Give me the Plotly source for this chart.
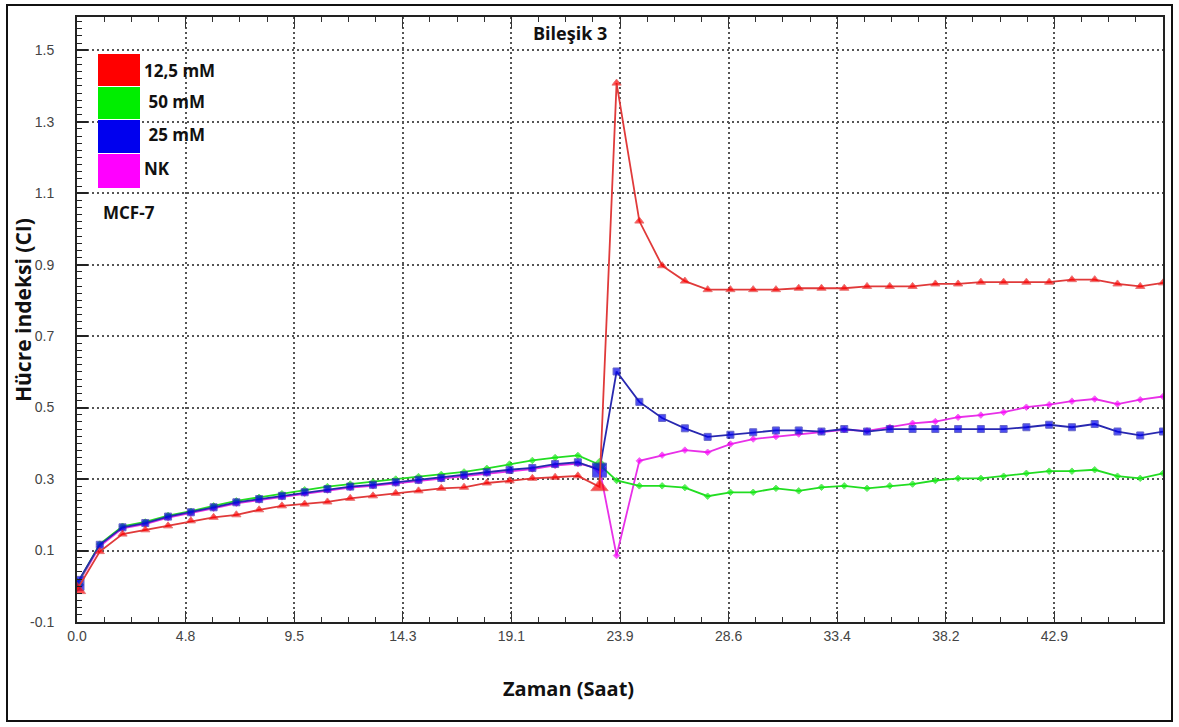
import plotly.graph_objects as go

# ---------------- data ----------------
time_h = [0, 1, 2, 3, 4, 5, 6, 7, 8, 9, 10, 11, 12, 13, 14, 15, 16, 17, 18, 19, 20, 21, 22,
          22.95,
          23.7, 24.7, 25.7, 26.7, 27.7, 28.7, 29.7, 30.7, 31.7, 32.7, 33.7, 34.7, 35.7, 36.7,
          37.7, 38.7, 39.7, 40.7, 41.7, 42.7, 43.7, 44.7, 45.7, 46.7, 47.7]

ci_125 = [-0.010, 0.097, 0.146, 0.158, 0.169, 0.183, 0.193, 0.200, 0.214, 0.225, 0.230, 0.236,
          0.246, 0.253, 0.260, 0.267, 0.274, 0.277, 0.289, 0.295, 0.302, 0.305, 0.309,
          0.278,
          1.408, 1.022, 0.897, 0.854, 0.830, 0.830, 0.830, 0.830, 0.834, 0.834, 0.834, 0.839,
          0.839, 0.839, 0.846, 0.846, 0.851, 0.851, 0.851, 0.851, 0.858, 0.858, 0.846, 0.839, 0.849]

ci_50 = [0.005, 0.118, 0.168, 0.180, 0.198, 0.210, 0.225, 0.239, 0.249, 0.259, 0.270, 0.279,
         0.286, 0.292, 0.300, 0.307, 0.313, 0.320, 0.330, 0.342, 0.352, 0.360, 0.366,
         0.340,
         0.296, 0.281, 0.281, 0.276, 0.252, 0.263, 0.263, 0.274, 0.267, 0.277, 0.281, 0.274,
         0.281, 0.286, 0.296, 0.302, 0.302, 0.308, 0.316, 0.322, 0.322, 0.326, 0.308, 0.302, 0.316]

ci_25 = [0.008, 0.116, 0.165, 0.177, 0.195, 0.207, 0.221, 0.235, 0.244, 0.253, 0.263, 0.272,
         0.279, 0.284, 0.291, 0.298, 0.303, 0.311, 0.319, 0.326, 0.331, 0.342, 0.347,
         0.325,
         0.601, 0.516, 0.471, 0.442, 0.418, 0.424, 0.431, 0.436, 0.436, 0.433, 0.440, 0.433,
         0.440, 0.440, 0.440, 0.440, 0.440, 0.440, 0.445, 0.452, 0.445, 0.454, 0.433, 0.422, 0.433]

ci_nk = [0.002, 0.112, 0.162, 0.174, 0.192, 0.204, 0.218, 0.232, 0.241, 0.250, 0.260, 0.269,
         0.276, 0.281, 0.288, 0.295, 0.300, 0.308, 0.316, 0.323, 0.328, 0.338, 0.343,
         0.330,
         0.086, 0.351, 0.367, 0.381, 0.375, 0.398, 0.412, 0.419, 0.426, 0.433, 0.438, 0.435,
         0.445, 0.456, 0.461, 0.473, 0.479, 0.487, 0.501, 0.508, 0.518, 0.524, 0.510, 0.522, 0.531]

x_tick_vals = [0.0, 4.77, 9.54, 14.31, 19.08, 23.85, 28.62, 33.39, 38.16, 42.93]
x_tick_text = ["0.0", "4.8", "9.5", "14.3", "19.1", "23.9", "28.6", "33.4", "38.2", "42.9"]
y_tick_vals = [-0.1, 0.1, 0.3, 0.5, 0.7, 0.9, 1.1, 1.3, 1.5]
y_tick_text = ["-0.1", "0.1", "0.3", "0.5", "0.7", "0.9", "1.1", "1.3", "1.5"]

legend_labels = ["12,5 mM", " 50 mM", " 25 mM", "NK"]
legend_colors = ["#ff0000", "#00ee00", "#0000ee", "#ff00ff"]

# ---------------- figure ----------------
W, H = 1179, 727
L, R, T, B = 77, 1163, 17, 622


def px(xp):
    return (xp - L) / (R - L)


def py(yp):
    return (B - yp) / (B - T)


big_idx = {0, 23}


def sizes(n, small, big):
    return [big if i in big_idx else small for i in range(n)]


n = len(time_h)
fig = go.Figure()
fig.add_trace(go.Scatter(x=time_h, y=ci_nk, mode="lines+markers", name="NK",
                         line=dict(color="#e830e8", width=1.8),
                         marker=dict(symbol="diamond", size=sizes(n, 5, 10), color="#ff00ff")))
fig.add_trace(go.Scatter(x=time_h, y=ci_50, mode="lines+markers", name="50 mM",
                         line=dict(color="#22dd22", width=1.8),
                         marker=dict(symbol="diamond", size=sizes(n, 5, 10), color="#11ee11")))
fig.add_trace(go.Scatter(x=time_h, y=ci_25, mode="lines+markers", name="25 mM",
                         line=dict(color="#2828b0", width=1.8),
                         marker=dict(symbol="square", size=sizes(n, 7, 14), color="#0000ee")))
fig.add_trace(go.Scatter(x=time_h, y=ci_125, mode="lines+markers", name="12,5 mM",
                         line=dict(color="#e03a3a", width=1.8),
                         marker=dict(symbol="triangle-up", size=sizes(n, 8, 15), color="#ff0000")))

grid_style = dict(showgrid=True, gridcolor="#555555", griddash="2px,3px", gridwidth=1.5)
tick_font = dict(family="Liberation Sans Narrow, Liberation Sans, Arial", size=14, color="#444444")

fig.update_xaxes(range=[0, 47.7], tickmode="array", tickvals=x_tick_vals, ticktext=x_tick_text,
                 ticks="inside", ticklen=11, tickwidth=1.3, tickcolor="#333333",
                 showline=True, linecolor="#222222", linewidth=2, mirror="allticks",
                 zeroline=False, tickfont=tick_font, ticklabelstandoff=0,
                 minor=dict(tickmode="linear", tick0=0, dtick=1.1925, ticks="inside", ticklen=5,
                            tickwidth=1.2, tickcolor="#333333", showgrid=False),
                 **grid_style)
fig.update_yaxes(range=[-0.1, 1.593], tickmode="array", tickvals=y_tick_vals, ticktext=y_tick_text,
                 ticks="inside", ticklen=11, tickwidth=1.8, tickcolor="#222222",
                 showline=True, linecolor="#222222", linewidth=2, mirror=True,
                 zeroline=False, tickfont=tick_font, ticklabelstandoff=18,
                 minor=dict(tickmode="linear", tick0=-0.1, dtick=0.02, ticks="inside", ticklen=5,
                            tickwidth=1.3, tickcolor="#222222", showgrid=False),
                 **grid_style)

shapes = []
annotations = []
# legend boxes
box_tops = [54, 87, 120, 154]
box_bots = [86, 119, 153, 188]
label_y = [71, 101, 134, 168]
for lab, col, t0, b0, ly in zip(legend_labels, legend_colors, box_tops, box_bots, label_y):
    shapes.append(dict(type="rect", xref="paper", yref="paper",
                       x0=px(98), x1=px(140), y0=py(b0), y1=py(t0),
                       fillcolor=col, line=dict(width=0), layer="above"))
    annotations.append(dict(text="<b>%s</b>" % lab, xref="paper", yref="paper",
                            x=px(142), y=py(ly), xanchor="left", yanchor="middle", showarrow=False,
                            font=dict(family="Open Sans", size=17, color="#111111")))

annotations.append(dict(text="<b>MCF-7</b>", xref="paper", yref="paper", x=px(101), y=py(212),
                        xanchor="left", yanchor="middle", showarrow=False,
                        font=dict(family="Open Sans", size=17, color="#111111")))
annotations.append(dict(text="<b>Bileşik 3</b>", xref="paper", yref="paper", x=px(570), y=py(33),
                        xanchor="center", yanchor="middle", showarrow=False,
                        font=dict(family="Open Sans", size=18, color="#111111")))
annotations.append(dict(text="<b>Zaman (Saat)</b>", xref="paper", yref="paper", x=px(568), y=py(688),
                        xanchor="center", yanchor="middle", showarrow=False,
                        font=dict(family="Open Sans", size=20, color="#111111")))
annotations.append(dict(text="<b>Hücre indeksi (CI)</b>", xref="paper", yref="paper", x=px(23), y=py(310),
                        xanchor="center", yanchor="middle", showarrow=False, textangle=-90,
                        font=dict(family="Open Sans", size=21, color="#111111")))

# outer frame of the picture
shapes.append(dict(type="rect", xref="paper", yref="paper",
                   x0=px(7), x1=px(1172), y0=py(721), y1=py(5),
                   line=dict(color="#111111", width=2), fillcolor="rgba(0,0,0,0)"))

fig.update_layout(width=W, height=H, margin=dict(l=L, r=W - R, t=T, b=H - B, pad=0),
                  paper_bgcolor="white", plot_bgcolor="white", showlegend=False,
                  shapes=shapes, annotations=annotations)

fig.write_html("out.html", config={"displayModeBar": False},
               post_script="document.body.style.margin='0';document.body.style.overflow='hidden';")
